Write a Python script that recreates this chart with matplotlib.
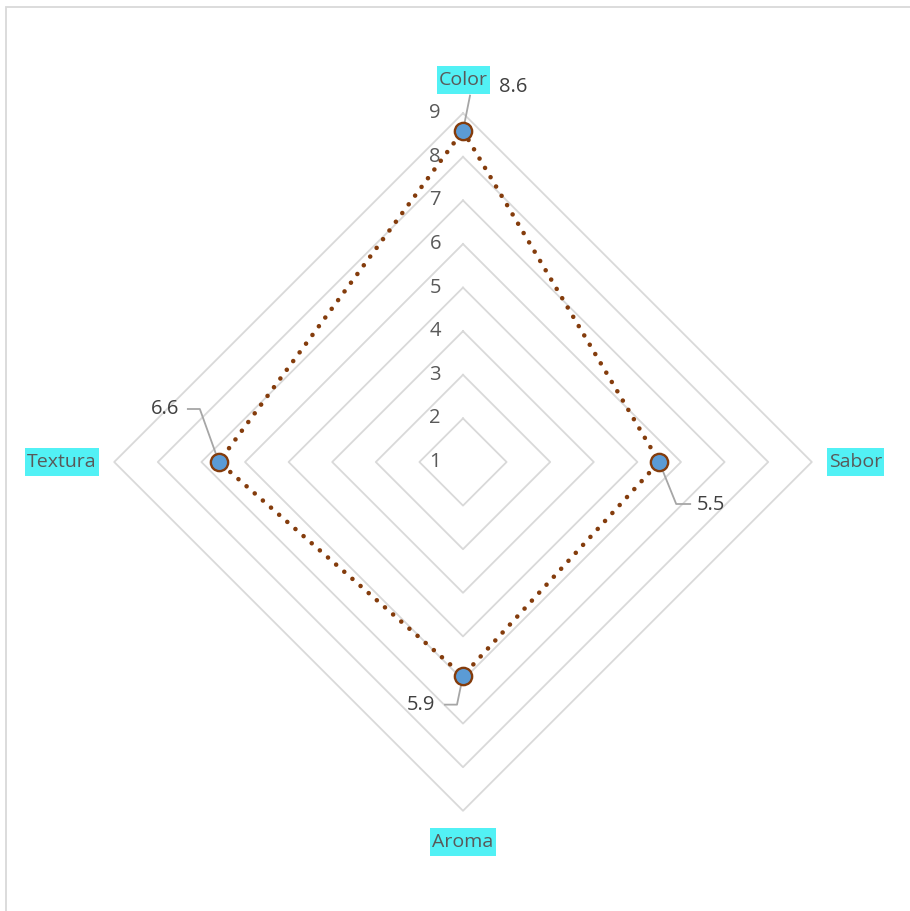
import numpy as np
import matplotlib
matplotlib.use("Agg")
import matplotlib.pyplot as plt
from matplotlib.patches import Rectangle

categories = ["Color", "Sabor", "Aroma", "Textura"]
values = [8.6, 5.5, 5.9, 6.6]
value_labels = ["8.6", "5.5", "5.9", "6.6"]
ticks = [1, 2, 3, 4, 5, 6, 7, 8, 9]
rmin, rmax = 1, 9

plt.rcParams['font.family'] = ['Open Sans', 'DejaVu Sans']

W, H, DPI = 910, 911, 100
fig = plt.figure(figsize=(W / DPI, H / DPI), dpi=DPI)
ax = fig.add_axes([0, 0, 1, 1])
ax.set_axis_off()

ppu = 43.6  # pixels per unit
cx, cy = 463, 462
ax.set_xlim(-cx / ppu, (W - cx) / ppu)
ax.set_ylim(-(H - cy) / ppu, cy / ppu)

angles = np.array([90, 0, -90, 180]) * np.pi / 180.0


def xy(v, ang):
    r = v - rmin
    return r * np.cos(ang), r * np.sin(ang)


grid_c = "#D9D9D9"
for t in ticks[1:]:
    xs, ys = xy(np.full(5, t), np.append(angles, angles[0]))
    ax.plot(xs, ys, color=grid_c, lw=1.3, zorder=1)

txt_c = "#595959"
for t in ticks:
    x, y = xy(t, np.pi / 2)
    ax.text(x - 22 / ppu, y, str(t), ha="right", va="center", fontsize=14.5, color=txt_c)

# series
vx, vy = xy(np.array(values), angles)
ax.plot(np.append(vx, vx[0]), np.append(vy, vy[0]), color="#843C0C", lw=3.3,
        linestyle=(0, (0.01, 2.35)), dash_capstyle="round", zorder=3)
ax.scatter(vx, vy, s=155, facecolor="#5B9BD5", edgecolor="#843C0C", linewidths=1.7, zorder=4)

# category labels
cat_off = [8.77 - 8, 9.0 - 8, 8.72 - 8, 9.2 - 8]
cat_texts = []
for cat, ang, off in zip(categories, angles, cat_off):
    x, y = xy(rmax + off, ang)
    t = ax.text(x, y, cat, ha="center", va="center", fontsize=14, color=txt_c, zorder=6)
    cat_texts.append(t)

fig.canvas.draw()
renderer = fig.canvas.get_renderer()
for t in cat_texts:
    bb = t.get_window_extent(renderer)
    padx, pady = 2, 5
    (x0, y0) = ax.transData.inverted().transform((bb.x0 - padx, bb.y0 - pady))
    (x1, y1) = ax.transData.inverted().transform((bb.x1 + padx, bb.y1 + pady))
    ax.add_patch(Rectangle((x0, y0), x1 - x0, y1 - y0, facecolor="#52F1F5",
                           edgecolor="none", zorder=5))

# data labels with leader lines (pixel offsets relative to point)
lab_off = [(50, 44), (52, -43), (-42, -29), (-54, 53)]
leader = [
    [(0, 0), (7, 35)],
    [(0, 0), (17, -42), (31, -42)],
    [(0, 0), (-6, -29), (-18, -29)],
    [(0, 0), (-19, 53), (-31, 53)],
]
for i, (lab, off, ld) in enumerate(zip(value_labels, lab_off, leader)):
    px, py = vx[i], vy[i]
    lx = [px + d[0] / ppu for d in ld]
    ly = [py + d[1] / ppu for d in ld]
    ax.plot(lx, ly, color="#A6A6A6", lw=1.3, zorder=2)
    ax.text(px + off[0] / ppu, py + off[1] / ppu, lab, ha="center", va="center",
            fontsize=14.5, color="#404040", zorder=5)

# chart frame
fig.patches.append(Rectangle((6 / W, -0.1), 1.2, 1 - 7 / H + 0.1, transform=fig.transFigure,
                             fill=False, edgecolor=grid_c, lw=1.3))

fig.savefig("out.png", dpi=DPI, facecolor="white")
